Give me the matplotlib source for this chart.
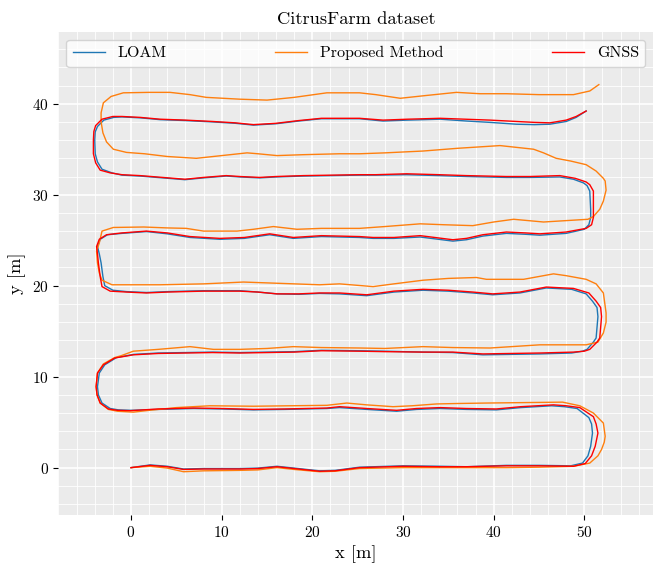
import matplotlib
matplotlib.use("Agg")
import matplotlib.pyplot as plt
from matplotlib.ticker import MultipleLocator

# trajectories, in metres
gnss_x = [0.0, 2.1, 4.0, 5.8, 8.0, 12.0, 14.0, 16.1, 18.0, 20.8, 22.5, 25.2, 30.0, 34.1, 37.0, 41.4, 45.0, 48.8,
          50.1, 50.8, 51.2, 51.5, 51.3, 51.0, 49.5, 48.0, 46.6, 43.0, 40.3, 37.0, 34.1, 31.5, 29.3, 26.0, 23.0,
          21.6, 17.0, 13.5, 10.0, 6.9, 3.0, -0.1, -1.5, -2.5, -3.4, -3.75, -3.85, -3.7, -3.05, -1.8, 0.25,
          3.0, 6.1, 9.0, 12.0, 15.0, 18.0, 21.0, 25.2, 28.0, 32.2, 35.5, 38.8, 42.0, 45.1, 48.8, 50.0, 50.6,
          51.4, 51.7, 51.9, 51.8, 51.3, 50.5, 48.8, 45.8, 42.9, 39.9, 37.7, 35.0, 32.2, 29.0, 26.0, 23.0,
          20.8, 18.5, 16.1, 14.0, 12.0, 8.0, 4.0, 1.7, -0.5, -2.3, -3.2, -3.4, -3.6, -3.7, -3.8, -3.5, -2.7,
          -1.0, 1.7, 4.0, 6.5, 9.8, 12.5, 15.3, 17.9, 21.0, 25.2, 26.7, 29.0, 31.9, 33.5, 35.5, 37.0, 38.8,
          41.4, 43.5, 45.1, 48.0, 50.2, 50.8, 51.0, 51.0, 51.0, 50.6, 50.2, 49.0, 47.3, 44.0, 41.4, 37.0,
          34.0, 30.4, 27.0, 25.2, 22.0, 19.0, 16.0, 14.2, 12.0, 10.5, 8.0, 5.95, 3.5, 1.0, -1.0, -2.3, -3.4,
          -3.9, -4.15, -4.15, -4.1, -3.9, -3.2, -2.0, -1.0, 1.0, 3.2, 6.0, 9.0, 11.5, 13.5, 16.0, 18.5, 21.0,
          23.0, 25.2, 27.8, 30.5, 34.1, 37.0, 39.6, 42.5, 44.5, 46.2, 48.0, 49.1, 50.2]
gnss_y = [0.0, 0.25, 0.1, -0.2, -0.15, -0.15, -0.1, 0.1, -0.1, -0.4, -0.35, 0.0, 0.15, 0.1, 0.1, 0.2, 0.2, 0.15,
          0.45, 1.3, 2.35, 3.8, 4.8, 5.6, 6.6, 6.8, 6.9, 6.7, 6.45, 6.5, 6.6, 6.5, 6.3, 6.5, 6.7,
          6.55, 6.45, 6.4, 6.5, 6.55, 6.45, 6.26, 6.3, 6.45, 7.1, 8.0, 8.9, 10.4, 11.3, 12.05, 12.4,
          12.55, 12.6, 12.65, 12.6, 12.65, 12.7, 12.85, 12.8, 12.75, 12.7, 12.7, 12.5, 12.55, 12.6, 12.7, 12.8, 13.0,
          13.8, 14.25, 16.6, 17.6, 18.3, 19.2, 19.7, 19.85, 19.3, 19.1, 19.3, 19.5, 19.6, 19.4, 19.0, 19.2,
          19.2, 19.1, 19.1, 19.3, 19.4, 19.4, 19.3, 19.2, 19.3, 19.4, 19.9, 21.0, 22.5, 23.5, 24.3, 25.1, 25.6,
          25.8, 26.0, 25.8, 25.4, 25.2, 25.3, 25.7, 25.3, 25.5, 25.4, 25.3, 25.3, 25.5, 25.3, 25.05, 25.2, 25.6,
          25.9, 25.8, 25.7, 25.9, 26.3, 26.7, 27.5, 28.35, 30.4, 31.1, 31.4, 31.8, 32.1, 32.0, 32.0, 32.1,
          32.2, 32.3, 32.2, 32.2, 32.15, 32.1, 32.0, 31.9, 32.0, 32.1, 31.9, 31.7, 31.9, 32.1, 32.2, 32.4, 32.7,
          33.5, 34.5, 36.0, 36.96, 37.6, 38.3, 38.6, 38.6, 38.5, 38.3, 38.2, 38.05, 37.9, 37.7, 37.85, 38.15, 38.4,
          38.4, 38.4, 38.2, 38.3, 38.4, 38.3, 38.2, 38.05, 37.95, 37.9, 38.2, 38.6, 39.2]

loam_x = [0.0, 2.1, 4.0, 5.8, 8.0, 12.0, 14.0, 16.1, 18.0, 20.8, 22.5, 25.2, 30.0, 34.1, 37.0, 41.4, 45.0, 48.5,
          49.8, 50.4, 50.7, 50.9, 50.8, 50.5, 49.2, 47.8, 46.4, 43.0, 40.3, 37.0, 34.1, 31.5, 29.3, 26.0, 23.0,
          21.6, 17.0, 13.5, 10.0, 6.9, 3.0, 0.0, -1.4, -2.3, -3.2, -3.6, -3.7, -3.5, -2.9, -1.6, 0.3,
          3.0, 6.1, 9.0, 12.0, 15.0, 18.0, 21.0, 25.2, 28.0, 32.2, 35.5, 38.8, 42.0, 45.1, 48.6, 49.8, 50.3,
          51.0, 51.3, 51.5, 51.4, 50.9, 50.2, 48.6, 45.8, 42.9, 39.9, 37.7, 35.0, 32.2, 29.0, 26.0, 23.0,
          20.8, 18.5, 16.1, 14.0, 12.0, 8.0, 4.0, 1.7, -0.5, -2.0, -2.9, -3.1, -3.3, -3.5, -3.7, -3.4, -2.6,
          -1.0, 1.7, 4.0, 6.5, 9.8, 12.5, 15.3, 17.9, 21.0, 25.2, 26.7, 29.0, 31.9, 33.5, 35.5, 37.0, 38.8,
          41.4, 43.5, 45.1, 48.0, 50.0, 50.5, 50.7, 50.7, 50.6, 50.3, 49.9, 48.8, 47.3, 44.0, 41.4, 37.0,
          34.0, 30.4, 27.0, 25.2, 22.0, 19.0, 16.0, 14.2, 12.0, 10.5, 8.0, 5.95, 3.5, 1.0, -1.0, -2.1, -3.2,
          -3.7, -3.95, -4.0, -3.95, -3.7, -3.0, -1.9, -1.0, 1.0, 3.2, 6.0, 9.0, 11.5, 13.5, 16.0, 18.5, 21.0,
          23.0, 25.2, 27.8, 30.5, 34.1, 37.0, 39.6, 42.5, 44.5, 46.2, 48.0, 49.1, 50.2]
loam_y = [0.0, 0.3, 0.15, -0.15, -0.1, -0.1, -0.05, 0.15, -0.05, -0.35, -0.3, 0.05, 0.2, 0.15, 0.1, 0.25, 0.25, 0.2,
          0.5, 1.3, 2.35, 3.8, 4.8, 5.5, 6.5, 6.7, 6.8, 6.6, 6.35, 6.4, 6.5, 6.4, 6.2, 6.4, 6.6,
          6.5, 6.4, 6.35, 6.45, 6.5, 6.4, 6.3, 6.35, 6.5, 7.1, 8.0, 8.9, 10.4, 11.3, 12.1, 12.45,
          12.6, 12.65, 12.7, 12.65, 12.7, 12.75, 12.9, 12.85, 12.8, 12.7, 12.65, 12.4, 12.45, 12.5, 12.6, 12.8, 13.0,
          13.8, 14.25, 16.6, 17.6, 18.3, 19.1, 19.6, 19.75, 19.2, 19.0, 19.2, 19.4, 19.5, 19.3, 18.9, 19.1,
          19.15, 19.05, 19.1, 19.3, 19.45, 19.45, 19.35, 19.25, 19.35, 19.5, 20.0, 21.0, 22.5, 23.5, 24.3, 25.1, 25.6,
          25.75, 25.95, 25.7, 25.3, 25.1, 25.2, 25.6, 25.2, 25.4, 25.3, 25.2, 25.2, 25.35, 25.15, 24.9, 25.05, 25.45,
          25.75, 25.65, 25.55, 25.75, 26.2, 26.7, 27.5, 28.35, 30.4, 31.0, 31.3, 31.7, 31.95, 31.9, 31.9, 32.0,
          32.1, 32.2, 32.15, 32.15, 32.1, 32.05, 31.95, 31.85, 31.95, 32.05, 31.85, 31.65, 31.85, 32.05, 32.15, 32.4, 32.8,
          33.6, 34.5, 36.0, 36.9, 37.5, 38.2, 38.5, 38.55, 38.45, 38.25, 38.15, 38.0, 37.85, 37.65, 37.8, 38.1, 38.35,
          38.35, 38.35, 38.1, 38.2, 38.3, 38.1, 37.95, 37.75, 37.7, 37.75, 38.05, 38.5, 39.2]

prop_x = [0.0, 2.1, 4.0, 5.8, 8.0, 12.0, 14.0, 16.1, 18.0, 20.8, 22.5, 25.2, 30.0, 34.1, 37.0, 41.4, 45.0, 48.8,
          50.6, 51.5, 51.9, 52.2, 52.3, 52.1, 51.0, 49.5, 47.6, 43.0, 39.2, 36.0, 33.7, 31.0, 28.9, 26.0, 23.8,
          21.6, 17.0, 13.5, 8.7, 5.0, 2.0, 0.25, -1.5, -2.5, -3.4, -3.75, -3.85, -3.7, -3.05, -1.8, -1.1,
          0.25, 3.0, 6.5, 9.1, 12.0, 15.0, 17.9, 21.0, 25.2, 28.0, 32.2, 35.5, 39.6, 42.0, 45.1, 48.0, 50.2, 51.5,
          52.1, 52.4, 52.4, 52.1, 51.3, 50.2, 48.0, 46.6, 43.3, 39.2, 38.1, 35.0, 32.2, 29.0, 26.7, 23.0,
          20.8, 17.9, 15.0, 12.4, 8.0, 3.2, 0.0, -2.1, -3.2, -3.5, -3.7, -3.8, -3.5, -3.2, -1.95,
          1.4, 4.0, 6.1, 8.0, 11.7, 13.5, 15.7, 18.3, 21.0, 25.2, 28.0, 31.9, 34.5, 37.7, 40.0, 42.2,
          45.5, 48.8, 50.4, 51.0, 51.7, 52.1, 52.4, 52.3, 52.1, 51.3, 50.2, 48.5, 46.9, 45.5, 44.4, 40.7, 36.0,
          32.2, 28.0, 25.2, 23.0, 19.0, 16.1, 14.0, 12.8, 10.0, 7.2, 4.0, 1.5, -0.5, -1.95, -2.7, -3.1, -3.3,
          -3.3, -3.05, -2.2, -0.85, 2.0, 4.3, 6.5, 8.3, 12.0, 15.0, 18.0, 21.6, 23.0, 25.2, 27.0, 29.7, 32.5,
          35.9, 38.5, 41.4, 45.0, 48.8, 50.6, 51.6]
prop_y = [0.0, 0.15, -0.05, -0.45, -0.35, -0.3, -0.25, 0.0, -0.2, -0.45, -0.4, -0.1, 0.0, 0.0, 0.0, 0.0, 0.05, 0.15,
          0.5, 1.3, 2.0, 2.8, 3.45, 4.9, 6.0, 6.8, 7.2, 7.15, 7.1, 7.05, 7.0, 6.8, 6.7, 6.9, 7.1,
          6.85, 6.8, 6.75, 6.8, 6.6, 6.3, 6.1, 6.2, 6.4, 7.1, 8.0, 8.9, 10.4, 11.4, 12.1, 12.3,
          12.8, 13.0, 13.3, 13.0, 13.0, 13.1, 13.3, 13.2, 13.15, 13.1, 13.3, 13.2, 13.15, 13.3, 13.5, 13.5, 13.5, 13.8,
          14.8, 16.0, 17.0, 19.2, 20.2, 20.7, 21.1, 21.3, 20.7, 20.7, 20.9, 20.8, 20.6, 20.2, 19.9, 20.2,
          20.1, 20.2, 20.3, 20.4, 20.2, 20.1, 20.1, 20.1, 20.6, 21.4, 22.5, 23.8, 24.7, 26.0, 26.4,
          26.45, 26.35, 26.3, 26.0, 26.0, 26.2, 26.5, 26.2, 26.3, 26.3, 26.5, 26.8, 26.7, 26.6, 27.0, 27.3,
          27.0, 27.2, 27.3, 27.6, 28.4, 29.3, 30.5, 31.5, 31.8, 32.6, 33.3, 33.7, 34.0, 34.6, 35.0, 35.4, 35.1,
          34.8, 34.6, 34.5, 34.5, 34.4, 34.3, 34.5, 34.6, 34.3, 34.0, 34.2, 34.5, 34.65, 35.0, 35.8, 36.8, 38.0,
          39.0, 40.1, 40.8, 41.2, 41.25, 41.25, 41.0, 40.7, 40.5, 40.4, 40.7, 41.2, 41.2, 41.2, 41.0, 40.6, 40.9,
          41.25, 41.1, 41.1, 41.0, 41.0, 41.4, 42.1]

plt.rcParams['font.family'] = 'serif'
plt.rcParams['font.serif'] = ['cmr10']
plt.rcParams['mathtext.fontset'] = 'cm'
plt.rcParams['axes.formatter.use_mathtext'] = True

fig = plt.figure(figsize=(6.55, 5.69), dpi=100)
ax = fig.add_axes([0.0893, 0.095, 0.908, 0.849])
ax.set_facecolor('#EBEBEB')
for s in ax.spines.values():
    s.set_visible(False)

ax.plot(loam_x, loam_y, color='#1f77b4', lw=1.0, label='LOAM')
ax.plot(prop_x, prop_y, color='#ff7f0e', lw=1.0, label='Proposed Method')
ax.plot(gnss_x, gnss_y, color='red', lw=1.0, label='GNSS')

ax.set_xlim(-8.0, 57.6)
ax.set_ylim(-5.2, 47.9)
ax.xaxis.set_major_locator(MultipleLocator(10))
ax.yaxis.set_major_locator(MultipleLocator(10))
ax.xaxis.set_minor_locator(MultipleLocator(2))
ax.yaxis.set_minor_locator(MultipleLocator(2))
ax.grid(which='major', color='white', lw=1.2)
ax.grid(which='minor', color='white', lw=0.6)
ax.set_axisbelow(True)
ax.tick_params(which='minor', length=0)
ax.tick_params(which='major', length=3.5, labelsize=11)

ax.set_title('CitrusFarm dataset', fontsize=13.3)
ax.set_xlabel('x [m]', fontsize=13.3)
ax.set_ylabel('y [m]', fontsize=13.3)
ax.legend(loc='upper left', bbox_to_anchor=(0, 0, 1, 1), mode='expand', ncol=3, fontsize=11.5)

plt.savefig('out.png')
